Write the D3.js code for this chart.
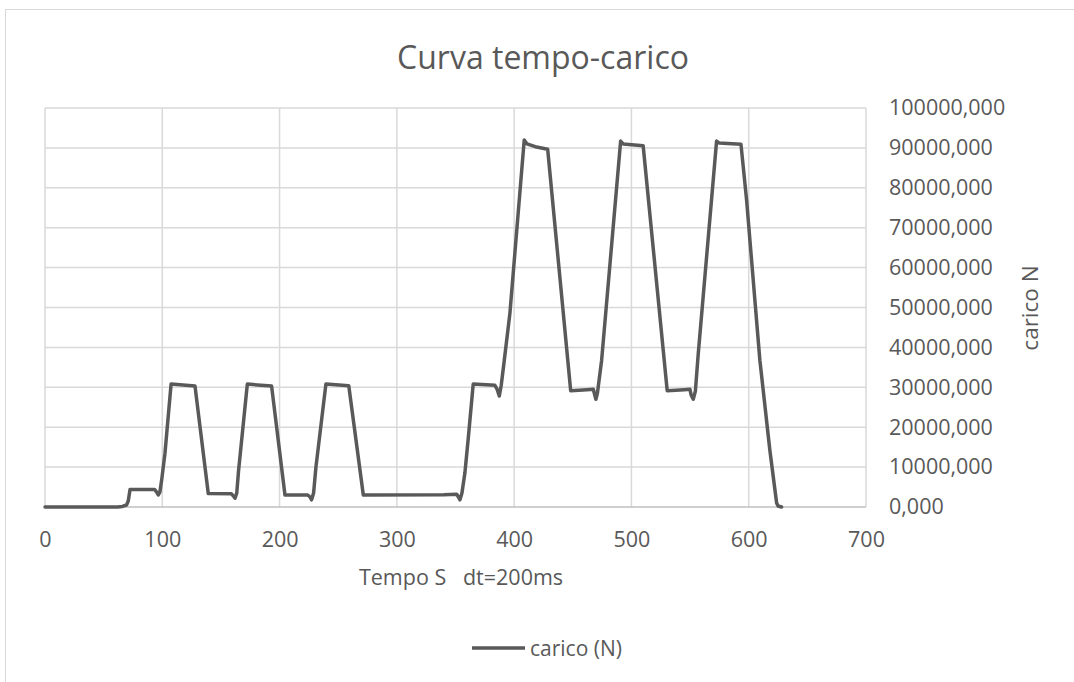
<!DOCTYPE html>
<html>
<head>
<meta charset="utf-8">
<script src="https://cdn.jsdelivr.net/npm/d3@7"></script>
<style>
  html, body { margin: 0; padding: 0; background: #ffffff; }
  svg { display: block; }
  text { font-family: "Open Sans", "Noto Sans", sans-serif; fill: #595959; }
</style>
</head>
<body>
<svg id="chart" width="1074" height="682"></svg>
<script>
// ---- data ----
const title = "Curva tempo-carico";
const xTitle = "Tempo S   dt=200ms";
const yTitle = "carico N";
const seriesName = "carico (N)";
const xTicks = [0, 100, 200, 300, 400, 500, 600, 700];
const yTicks = [0, 10000, 20000, 30000, 40000, 50000, 60000, 70000, 80000, 90000, 100000];
const timeS = [0, 62, 66, 69.5, 71, 72.5, 93.5, 95.5, 96.6, 98, 99.5, 102.3, 107.5, 127.9, 139.2,
  159, 160.5, 162, 163.5, 165, 172.5, 193.2, 204.6,
  224, 226, 227.3, 229, 231, 239.5, 259, 271.4,
  340, 351, 352.5, 353.8, 355.5, 358, 361, 365.1, 383.6, 385.5, 387.3, 389, 391.6, 396.4,
  408.6, 411, 418, 428.6, 448.2, 462, 467.5, 468.8, 469.7, 471, 474.6,
  490.8, 493, 510, 530.5, 545, 549.9, 551, 552.7, 554.5, 557,
  572.6, 575, 593.4, 598.2, 609.5, 618, 623.8, 625, 628];
const loadN = [0, 0, 150, 500, 1500, 4400, 4400, 3600, 3000, 3800, 6800, 13500, 30800, 30300, 3400,
  3300, 2800, 2200, 3500, 9000, 30800, 30300, 3000,
  3000, 2500, 1800, 3500, 10000, 30800, 30400, 3000,
  3100, 3200, 2500, 1800, 3500, 8500, 17600, 30800, 30500, 29500, 27800, 30500, 36800, 48600,
  92000, 91000, 90300, 89650, 29150, 29400, 29500, 28000, 27000, 28500, 36800,
  91700, 91000, 90550, 29150, 29400, 29500, 28000, 27000, 29000, 38500,
  91700, 91200, 90900, 76900, 36800, 14300, 1000, 250, 0];

// ---- layout ----
const svg = d3.select("#chart");
const plot = { left: 45, right: 866, top: 108, bottom: 507 };
const grey = "#595959";
const fs = "21.5px";

// chart frame
svg.append("rect").attr("x", 5.5).attr("y", 9.5).attr("width", 1200).attr("height", 800)
  .attr("fill", "#fff").attr("stroke", "#d9d9d9").attr("stroke-width", 1);

const x = d3.scaleLinear().domain([0, 700]).range([plot.left, plot.right]);
const y = d3.scaleLinear().domain([0, 100000]).range([plot.bottom, plot.top]);

// gridlines
svg.append("g").selectAll("line.v").data(xTicks).join("line")
  .attr("x1", d => x(d)).attr("x2", d => x(d))
  .attr("y1", plot.top).attr("y2", plot.bottom)
  .attr("stroke", "#d9d9d9").attr("stroke-width", 1.5);
svg.append("g").selectAll("line.h").data(yTicks.slice(1)).join("line")
  .attr("x1", plot.left).attr("x2", plot.right)
  .attr("y1", d => y(d)).attr("y2", d => y(d))
  .attr("stroke", "#d9d9d9").attr("stroke-width", 1.5);
// base axis line
svg.append("line").attr("x1", plot.left).attr("x2", plot.right)
  .attr("y1", y(0)).attr("y2", y(0)).attr("stroke", "#bfbfbf").attr("stroke-width", 1.5);

// x axis labels
const fmtX = d3.format("d");
const xAxis = d3.axisBottom(x).tickValues(xTicks).tickFormat(fmtX).tickSize(0).tickPadding(25);
const gx = svg.append("g").attr("transform", `translate(0,${plot.bottom})`).call(xAxis);
gx.select(".domain").remove();
gx.selectAll("text").style("font-family", '"Open Sans", sans-serif').style("font-size", fs).attr("fill", grey);

// y axis labels on the right
const fmtY = v => d3.format("d")(v) + ",000";
const yAxis = d3.axisRight(y).tickValues(yTicks).tickFormat(fmtY).tickSize(0).tickPadding(23);
const gy = svg.append("g").attr("transform", `translate(${plot.right},0)`).call(yAxis);
gy.select(".domain").remove();
gy.selectAll("text").style("font-family", '"Open Sans", sans-serif').style("font-size", fs).attr("fill", grey);

// line
const pts = timeS.map((t, i) => [t, loadN[i]]);
const line = d3.line().x(d => x(d[0])).y(d => y(d[1])).curve(d3.curveLinear);
svg.append("path").datum(pts).attr("d", line)
  .attr("fill", "none").attr("stroke", grey).attr("stroke-width", 3.5)
  .attr("stroke-linejoin", "round").attr("stroke-linecap", "round");

// titles
svg.append("text").attr("x", 543).attr("y", 69).attr("text-anchor", "middle")
  .style("font-size", "32px").text(title);
svg.append("text").attr("x", 461).attr("y", 585).attr("text-anchor", "middle")
  .attr("xml:space", "preserve").style("white-space", "pre")
  .style("font-size", fs).text(xTitle);
svg.append("text").attr("transform", "translate(1038,308) rotate(-90)").attr("text-anchor", "middle")
  .style("font-size", "22.5px").text(yTitle);

// legend
svg.append("line").attr("x1", 472).attr("x2", 525).attr("y1", 648).attr("y2", 648)
  .attr("stroke", grey).attr("stroke-width", 3.5);
svg.append("text").attr("x", 530).attr("y", 656).style("font-size", "21px").text(seriesName);
</script>
</body>
</html>
